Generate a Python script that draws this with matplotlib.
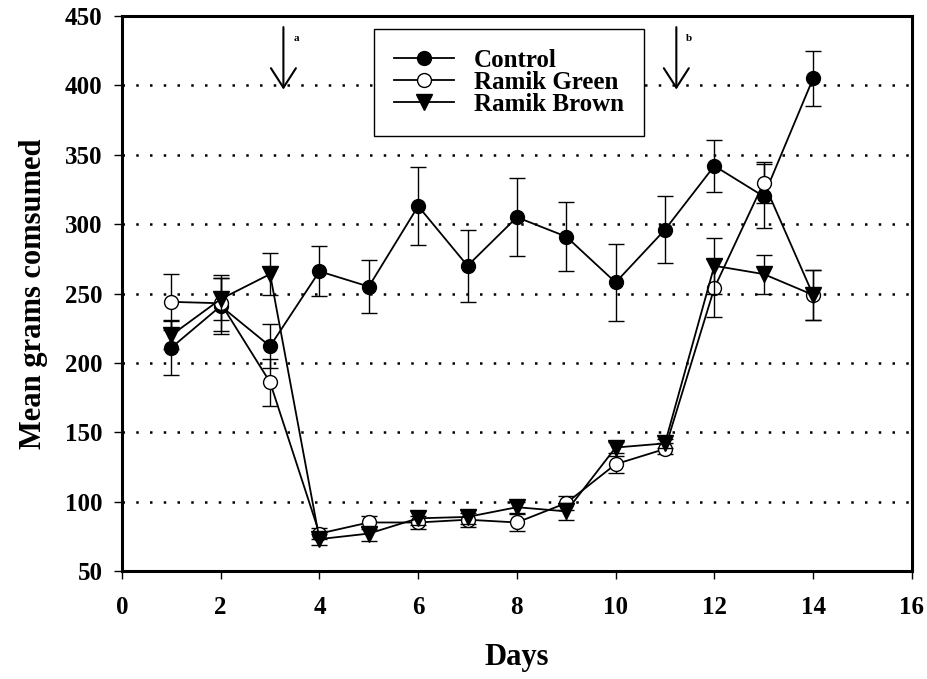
import matplotlib
matplotlib.use("Agg")
import matplotlib.pyplot as plt

plt.rcParams['font.family'] = ['Liberation Serif', 'DejaVu Serif']
plt.rcParams['font.weight'] = 'bold'

days = [1, 2, 3, 4, 5, 6, 7, 8, 9, 10, 11, 12, 13, 14]
control = [211, 241, 212, 266, 255, 313, 270, 305, 291, 258, 296, 342, 320, 405]
control_err = [20, 20, 16, 18, 19, 28, 26, 28, 25, 28, 24, 19, 23, 20]
green = [244, 243, 186, 77, 85, 85, 87, 85, 99, 127, 138, 254, 330, 249]
green_err = [20, 20, 17, 4, 5, 5, 5, 6, 5, 6, 4, 21, 15, 18]
brown = [220, 246, 264, 73, 77, 88, 89, 96, 93, 139, 142, 270, 264, 249]
brown_err = [10, 15, 15, 4, 5, 5, 5, 4, 6, 4, 3, 20, 14, 18]

grid_levels = [100, 150, 200, 250, 300, 350, 400]
arrows = [(3.27, 'a'), (11.23, 'b')]

fig = plt.figure(figsize=(9.27, 6.79), dpi=100)
ax = fig.add_axes([0.1316, 0.159, 0.852, 0.8174])

for g in grid_levels:
    ax.axhline(g, color='black', lw=1.8, linestyle=(0, (1, 4.5)), zorder=0)

common = dict(color='black', lw=1.3, elinewidth=1.0, ecolor='black',
              capsize=6, capthick=1.0)
c1 = ax.errorbar(days, control, yerr=control_err, marker='o', ms=10, mfc='black',
                 mec='black', label='Control', zorder=3, **common)
c2 = ax.errorbar(days, green, yerr=green_err, marker='o', ms=10, mfc='white',
                 mec='black', label='Ramik Green', zorder=4, **common)
c3 = ax.errorbar(days, brown, yerr=brown_err, marker='v', ms=11, mfc='black',
                 mec='black', label='Ramik Brown', zorder=5, **common)

for xa, lab in arrows:
    ax.annotate('', xy=(xa, 397), xytext=(xa, 442),
                arrowprops=dict(arrowstyle='->,head_length=1.4,head_width=0.9',
                                color='black', lw=1.5, shrinkA=0, shrinkB=0))
    ax.text(xa + 0.2, 434, lab, fontsize=8, fontweight='bold', ha='left', va='center')

ax.set_xlim(0, 16)
ax.set_ylim(50, 450)
ax.set_xticks(range(0, 17, 2))
ax.set_yticks(range(50, 451, 50))
ax.tick_params(direction='out', length=6, width=1, labelsize=18)
ax.tick_params(axis='x', pad=12)
ax.tick_params(axis='y', pad=8)
for lbl in ax.get_xticklabels() + ax.get_yticklabels():
    lbl.set_fontweight('bold')
for s in ax.spines.values():
    s.set_linewidth(2.2)

ax.set_xlabel('Days', fontsize=22, fontweight='bold', labelpad=17)
ax.set_ylabel('Mean grams comsumed', fontsize=22, fontweight='bold', labelpad=12)

leg = ax.legend(handles=[c1[0], c2[0], c3[0]], labels=['Control', 'Ramik Green', 'Ramik Brown'],
                loc='upper left', bbox_to_anchor=(0.319, 0.9766), borderaxespad=0,
                fontsize=18, frameon=True, fancybox=False, edgecolor='black', framealpha=1,
                handlelength=2.4, borderpad=0.8, labelspacing=-0.05, handletextpad=0.8)
leg.get_frame().set_linewidth(1.0)
for t in leg.get_texts():
    t.set_fontweight('bold')

fig.savefig('out.png', dpi=100)
